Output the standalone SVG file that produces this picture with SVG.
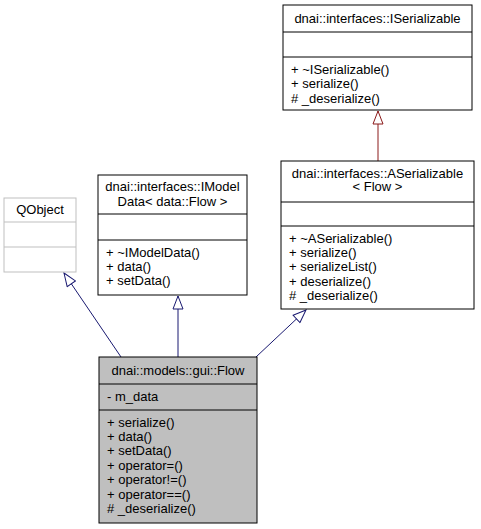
<svg xmlns="http://www.w3.org/2000/svg" width="481" height="529" viewBox="0 0 481 529">
<style>
text { font-family: "Liberation Sans", Arial, sans-serif; font-size: 13px; fill: #000; }
.c { text-anchor: middle; }
.box { fill: #fff; stroke: #000; stroke-width: 1; }
.sep { stroke: #000; stroke-width: 1; }
.gbox { fill: #fff; stroke: #bfbfbf; stroke-width: 1; }
.gsep { stroke: #bfbfbf; stroke-width: 1; }
.cur { fill: #bfbfbf; stroke: #000; stroke-width: 1; }
.blue { stroke: #191970; stroke-width: 1; fill: none; }
.red { stroke: #8b1a1a; stroke-width: 1; fill: none; }
</style>
<defs>
<marker id="ab" markerUnits="userSpaceOnUse" viewBox="-1 -1 15 12" refX="13" refY="5" markerWidth="15" markerHeight="12" orient="auto">
<path d="M0,0 L13,5 L0,10 Z" fill="#fff" stroke="#191970" stroke-width="1"/>
</marker>
<marker id="ar" markerUnits="userSpaceOnUse" viewBox="-1 -1 15 12" refX="13" refY="5" markerWidth="15" markerHeight="12" orient="auto">
<path d="M0,0 L13,5 L0,10 Z" fill="#fff" stroke="#8b1a1a" stroke-width="1"/>
</marker>
</defs>
<g id="edges">
<line class="red" x1="378" y1="161" x2="378" y2="111" marker-end="url(#ar)"/>
<line class="blue" x1="121" y1="357" x2="64" y2="273" marker-end="url(#ab)"/>
<line class="blue" x1="178" y1="357" x2="178" y2="296" marker-end="url(#ab)"/>
<line class="blue" x1="256" y1="357" x2="306" y2="310" marker-end="url(#ab)"/>
</g>
<g id="node-iserializable">
<rect class="box" x="283" y="5" width="189" height="105"/>
<line class="sep" x1="283" y1="32" x2="472" y2="32"/>
<line class="sep" x1="283" y1="57" x2="472" y2="57"/>
<text class="c" x="377.5" y="23">dnai::interfaces::ISerializable</text>
<text x="291" y="74">+ ~ISerializable()</text>
<text x="291" y="88.4">+ serialize()</text>
<text x="291" y="102.8"># _deserialize()</text>
</g>
<g id="node-aserializable">
<rect class="box" x="281" y="161" width="193" height="148"/>
<line class="sep" x1="281" y1="202" x2="474" y2="202"/>
<line class="sep" x1="281" y1="226" x2="474" y2="226"/>
<text class="c" x="377.5" y="177.5">dnai::interfaces::ASerializable</text>
<text class="c" x="377.5" y="191">&lt; Flow &gt;</text>
<text x="289" y="242.5">+ ~ASerializable()</text>
<text x="289" y="256.9">+ serialize()</text>
<text x="289" y="271.3">+ serializeList()</text>
<text x="289" y="285.7">+ deserialize()</text>
<text x="289" y="300.1"># _deserialize()</text>
</g>
<g id="node-imodeldata">
<rect class="box" x="98" y="175" width="149" height="120"/>
<line class="sep" x1="98" y1="214" x2="247" y2="214"/>
<line class="sep" x1="98" y1="240" x2="247" y2="240"/>
<text class="c" x="172.5" y="191">dnai::interfaces::IModel</text>
<text class="c" x="172.5" y="205.5">Data&lt; data::Flow &gt;</text>
<text x="106" y="256.5">+ ~IModelData()</text>
<text x="106" y="270.9">+ data()</text>
<text x="106" y="285.3">+ setData()</text>
</g>
<g id="node-qobject">
<rect class="gbox" x="4" y="198" width="72" height="74"/>
<line class="gsep" x1="4" y1="222" x2="76" y2="222"/>
<line class="gsep" x1="4" y1="247" x2="76" y2="247"/>
<text class="c" x="40" y="214">QObject</text>
</g>
<g id="node-flow">
<rect class="cur" x="99" y="357" width="158" height="166"/>
<line class="sep" x1="99" y1="384" x2="257" y2="384"/>
<line class="sep" x1="99" y1="410" x2="257" y2="410"/>
<text class="c" x="178" y="375">dnai::models::gui::Flow</text>
<text x="107" y="401">- m_data</text>
<text x="107" y="426.5">+ serialize()</text>
<text x="107" y="440.9">+ data()</text>
<text x="107" y="455.3">+ setData()</text>
<text x="107" y="469.7">+ operator=()</text>
<text x="107" y="484.1">+ operator!=()</text>
<text x="107" y="498.5">+ operator==()</text>
<text x="107" y="512.9"># _deserialize()</text>
</g>
</svg>
